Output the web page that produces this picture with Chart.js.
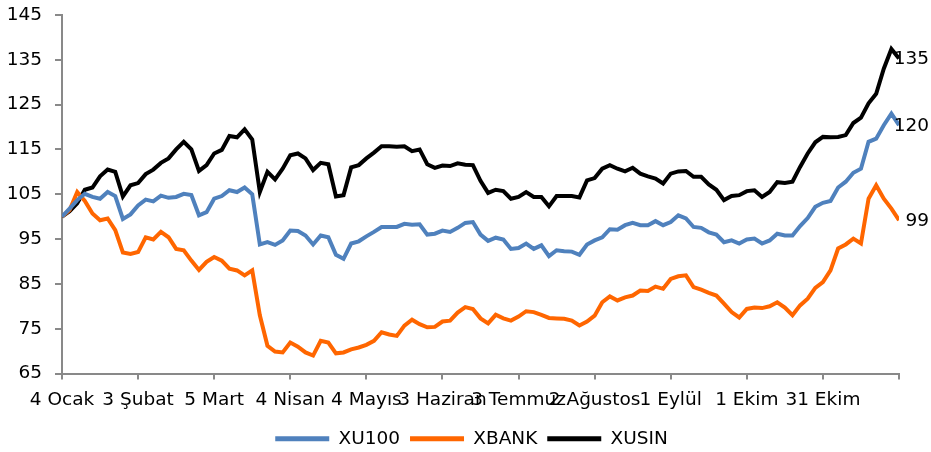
<!DOCTYPE html>
<html lang="tr">
<head>
<meta charset="utf-8">
<title>XU100 / XBANK / XUSIN</title>
<script src="https://cdn.jsdelivr.net/npm/chart.js@4.4.1/dist/chart.umd.min.js"></script>
<style>
  html, body { margin: 0; padding: 0; background: #fff; }
  #kutu { width: 931px; height: 452px; position: relative; }
</style>
</head>
<body>
<div id="kutu"><canvas id="grafik"></canvas></div>
<script>
// gün (4 Ocak = 0), grafikten 3 günde bir okunan değerler
const gunler = [
    0, 3, 6, 9, 12, 15, 18, 21, 24, 27,
    30, 33, 36, 39, 42, 45, 48, 51, 54, 57,
    60, 63, 66, 69, 72, 75, 78, 81, 84, 87,
    90, 93, 96, 99, 102, 105, 108, 111, 114, 117,
    120, 123, 126, 129, 132, 135, 138, 141, 144, 147,
    150, 153, 156, 159, 162, 165, 168, 171, 174, 177,
    180, 183, 186, 189, 192, 195, 198, 201, 204, 207,
    210, 213, 216, 219, 222, 225, 228, 231, 234, 237,
    240, 243, 246, 249, 252, 255, 258, 261, 264, 267,
    270, 273, 276, 279, 282, 285, 288, 291, 294, 297,
    300, 303, 306, 309, 312, 315, 318, 321, 324, 327,
    330
];

const xu100 = [
    100, 101.8, 103.7, 105.1, 104.4, 104, 105.5, 104.6, 99.5, 100.5,
    102.5, 103.8, 103.4, 104.7, 104.2, 104.4, 105.1, 104.8, 100.3, 101,
    104, 104.6, 105.9, 105.5, 106.5, 105, 93.8, 94.3, 93.7, 94.7,
    96.9, 96.8, 95.8, 93.8, 95.8, 95.4, 91.5, 90.6, 94, 94.5,
    95.6, 96.6, 97.7, 97.7, 97.7, 98.4, 98.2, 98.3, 96, 96.2,
    96.9, 96.6, 97.5, 98.6, 98.8, 96, 94.6, 95.3, 94.9, 92.8,
    93, 94, 92.8, 93.6, 91.2, 92.5, 92.3, 92.2, 91.5, 93.8,
    94.7, 95.4, 97.2, 97.1, 98.1, 98.6, 98.1, 98.1, 99, 98.1,
    98.8, 100.3, 99.6, 97.7, 97.5, 96.5, 96, 94.3, 94.7, 94,
    94.9, 95.1, 94, 94.7, 96.2, 95.8, 95.8, 97.9, 99.7, 102.2,
    103.1, 103.5, 106.5, 107.8, 109.8, 110.7, 116.7, 117.4, 120.4, 123,
    120.4
];

const xbank = [
    100, 101.5, 105.5, 103.5, 100.7, 99.2, 99.6, 97, 92, 91.7,
    92.1, 95.4, 94.9, 96.6, 95.4, 92.8, 92.5, 90.2, 88.1, 89.9,
    91, 90.2, 88.4, 88, 86.9, 88, 78, 71.2, 69.9, 69.7,
    71.9, 71, 69.7, 69, 72.3, 71.9, 69.5, 69.7, 70.4, 70.8,
    71.4, 72.3, 74.2, 73.7, 73.4, 75.7, 77, 76, 75.3, 75.4,
    76.6, 76.8, 78.6, 79.8, 79.4, 77.3, 76.2, 78.1, 77.3, 76.8,
    77.7, 78.9, 78.7, 78.1, 77.4, 77.3, 77.2, 76.8, 75.7, 76.6,
    77.9, 80.9, 82.2, 81.3, 82, 82.4, 83.5, 83.4, 84.4, 83.9,
    86.1, 86.7, 86.9, 84.3, 83.7, 83, 82.4, 80.6, 78.7, 77.5,
    79.4, 79.7, 79.6, 80, 80.9, 79.7, 78, 80.2, 81.7, 84.1,
    85.4, 88, 92.9, 93.8, 95.1, 94, 104, 107, 104, 101.8,
    99.2
];

const xusin = [
    100, 101.2, 103, 106, 106.5, 109, 110.5, 110, 104.5, 107,
    107.5, 109.5, 110.5, 112, 113, 115, 116.7, 115, 110.2, 111.5,
    114.1, 114.9, 118, 117.7, 119.5, 117.2, 105.5, 110, 108.3, 110.7,
    113.7, 114.1, 113, 110.4, 112, 111.7, 104.5, 104.8, 111, 111.5,
    113, 114.3, 115.7, 115.7, 115.6, 115.7, 114.6, 115, 111.7, 110.9,
    111.4, 111.3, 111.9, 111.6, 111.5, 108, 105.3, 106, 105.7, 104,
    104.4, 105.5, 104.4, 104.4, 102.3, 104.6, 104.6, 104.6, 104.3, 108.1,
    108.6, 110.7, 111.5, 110.7, 110.1, 110.9, 109.6, 109, 108.5, 107.4,
    109.6, 110.1, 110.2, 108.9, 108.9, 107.2, 106, 103.7, 104.6, 104.8,
    105.7, 105.9, 104.4, 105.5, 107.7, 107.5, 107.8, 111.1, 114.1, 116.6,
    117.8, 117.7, 117.8, 118.2, 120.9, 122.1, 125.3, 127.4, 133, 137.4,
    135.3
];

// eksen etiketleri, her 30 günde bir
const etiketler = ['4 Ocak', '3 Şubat', '5 Mart', '4 Nisan', '4 Mayıs', '3 Haziran',
    '3 Temmuz', '2 Ağustos', '1 Eylül', '1 Ekim', '31 Ekim', ''];

const seriler = ['XU100', 'XBANK', 'XUSIN'];
const renkler = ['#4F81BD', '#FF6600', '#000000'];

const yaziTipi = '"DejaVu Sans", Verdana, sans-serif';
Chart.defaults.font.family = yaziTipi;
Chart.defaults.font.size = 18.5;
Chart.defaults.color = '#000';

function noktalar(degerler) {
    return gunler.map((g, i) => ({ x: g, y: degerler[i] }));
}

// serilerin sonuna son değeri yaz
const sonDeger = {
    id: 'sonDeger',
    afterDatasetsDraw(chart) {
        const ctx = chart.ctx;
        ctx.save();
        ctx.font = '18.5px ' + yaziTipi;
        ctx.fillStyle = '#000';
        ctx.textAlign = 'right';
        ctx.textBaseline = 'middle';
        chart.data.datasets.forEach((ds, i) => {
            const son = ds.data.length - 1;
            const nokta = chart.getDatasetMeta(i).data[son];
            ctx.fillText(Math.round(ds.data[son].y), nokta.x + 30, nokta.y + 1);
        });
        ctx.restore();
    }
};

// lejant grafiğin ortasında değil, biraz sağda duruyor
const lejantKaydir = {
    id: 'lejantKaydir',
    afterLayout(chart) {
        chart.legend.left += 22;
        chart.legend.right += 22;
    }
};

const eksenRengi = '#898989';

new Chart(document.getElementById('grafik'), {
    type: 'line',
    data: {
        datasets: [xu100, xbank, xusin].map((d, i) => ({
            label: seriler[i],
            data: noktalar(d),
            borderColor: renkler[i],
            backgroundColor: renkler[i],
            borderWidth: 4,
            pointRadius: 0,
            tension: 0
        }))
    },
    options: {
        responsive: true,
        maintainAspectRatio: false,
        animation: false,
        layout: { padding: { top: 3, right: 32, left: 0, bottom: -6 } },
        scales: {
            x: {
                type: 'linear',
                min: 0,
                max: 330,
                ticks: {
                    stepSize: 30,
                    autoSkip: false,
                    maxRotation: 0,
                    minRotation: 0,
                    padding: 10,
                    callback: (v) => etiketler[Math.round(v / 30)] ?? ''
                },
                grid: { drawOnChartArea: false, tickLength: 6, color: eksenRengi, lineWidth: 2 },
                border: { color: eksenRengi, width: 2 },
                afterFit(scale) { scale.height = 46; }
            },
            y: {
                min: 65,
                max: 145,
                ticks: { stepSize: 10, padding: 13 },
                grid: { drawOnChartArea: false, tickLength: 7, color: eksenRengi, lineWidth: 2 },
                border: { color: eksenRengi, width: 2 },
                afterFit(scale) {
                    scale.width = 62;
                    scale.paddingTop = 15;
                }
            }
        },
        plugins: {
            legend: {
                position: 'bottom',
                labels: {
                    boxWidth: 54,
                    boxHeight: 5,
                    padding: 10,
                    generateLabels(chart) {
                        return Chart.defaults.plugins.legend.labels.generateLabels(chart)
                            .map(l => ({ ...l, lineWidth: 0 }));
                    }
                }
            },
            tooltip: { enabled: false }
        }
    },
    plugins: [sonDeger, lejantKaydir]
});
</script>
</body>
</html>
